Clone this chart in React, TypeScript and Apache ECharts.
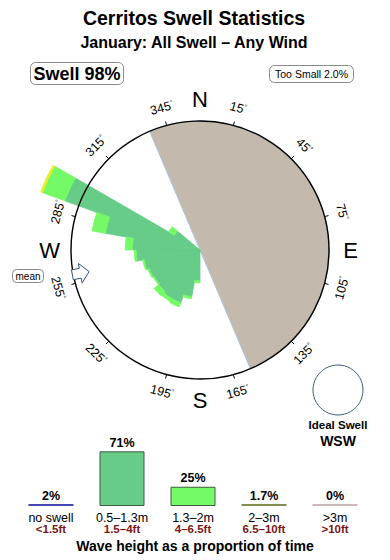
import React, { useEffect, useRef } from "react";
import * as echarts from "echarts";

// ---- Text ----
const TITLE = "Cerritos Swell Statistics";
const SUBTITLE = "January: All Swell – Any Wind";
const SWELL_BADGE = "Swell 98%";
const TOO_SMALL_BADGE = "Too Small 2.0%";
const IDEAL_LABEL = "Ideal Swell";
const IDEAL_DIRECTION = "WSW";
const FOOTER = "Wave height as a proportion of time";

// ---- Swell rose: 10° direction bins (bin centre, degrees from north) ----
const roseDirections = [185, 195, 205, 215, 225, 235, 245, 255, 265, 275, 285, 295, 305];
// stacked radial extents per wave-height band
const rose05to13m = [2.4, 3.7, 4.35, 4.35, 4.2, 4.1, 4.2, 4.4, 4.95, 5.25, 7.45, 11.15, 2.3];
const rose13to2m = [0.15, 0.15, 0.35, 0.25, 0.45, 0.1, 0.1, 0.1, 0.15, 0.55, 1.05, 1.85, 0.5];
const rose2to3m = [0, 0, 0, 0, 0, 0, 0, 0, 0, 0, 0, 0.15, 0];

const RING_VALUE = 10; // radial value that sits on the compass ring
const RADIAL_MAX = 14;

// land sector (bearings, clockwise from -> to)
const landFrom = 337;
const landTo = 157;
const meanDirection = 259;

// compass ring labels
const tickBearings = [15, 45, 75, 105, 135, 165, 195, 225, 255, 285, 315, 345];
const cardinalLetters = ["N", "E", "S", "W"];
const cardinalBearings = [0, 90, 180, 270];

// ---- Wave height distribution ----
const heightBands = ["no swell", "0.5–1.3m", "1.3–2m", "2–3m", ">3m"];
const heightFeet = ["<1.5ft", "1.5–4ft", "4–6.5ft", "6.5–10ft", ">10ft"];
const heightShare = [2, 71, 25, 1.7, 0];

// ---- Layout / style ----
const CX = 200;
const CY = 250;
const RING_R = 129;
const FONT = "'Liberation Sans', Arial, Helvetica, sans-serif";
const C_BAND_A = "#66CC88";
const C_BAND_B = "#74FA66";
const C_BAND_C = "#EDEB24";
const C_LAND = "#C4B9AD";
const bandFills = ["#4646B4", C_BAND_A, C_BAND_B, "#838F4E", "#CBB8B8"];
const bandBorders = [null, "#3E5A48", "#3E5A3E", null, null];

const BIN_COUNT = 36;
const binLabels = Array.from({ length: BIN_COUNT }, (_, i) => String(i * 10));

function toBins(values: number[]): (number | string)[] {
  const out: (number | string)[] = new Array(BIN_COUNT).fill("-");
  roseDirections.forEach((d, i) => {
    if (values[i] > 0) out[Math.floor(d / 10)] = values[i];
  });
  return out;
}

function polarPoint(bearing: number, r: number): [number, number] {
  const a = (bearing * Math.PI) / 180;
  return [CX + r * Math.sin(a), CY - r * Math.cos(a)];
}

function buildGraphics(): any[] {
  const els: any[] = [];
  const text = (x: number, y: number, t: string, size: number, weight: string, extra: any = {}) => ({
    type: "text",
    x,
    y,
    silent: true,
    z: 100,
    style: {
      text: t,
      fontSize: size,
      fontWeight: weight,
      fontFamily: FONT,
      fill: "#000",
      align: "center",
      verticalAlign: "middle",
      ...extra,
    },
  });

  els.push(text(194, 18, TITLE, 19.5, "bold"));
  els.push(text(194, 42, SUBTITLE, 16, "bold"));

  // badges
  els.push({
    type: "rect",
    silent: true,
    z: 99,
    shape: { x: 30.5, y: 62.5, width: 93, height: 22, r: 5 },
    style: { fill: "#fff", stroke: "#8a8a8a", lineWidth: 1 },
  });
  els.push(text(77, 74, SWELL_BADGE, 18, "bold"));
  els.push({
    type: "rect",
    silent: true,
    z: 99,
    shape: { x: 269.5, y: 65.5, width: 84, height: 17, r: 5 },
    style: { fill: "#fff", stroke: "#8a8a8a", lineWidth: 1 },
  });
  els.push(text(311.5, 74, TOO_SMALL_BADGE, 10.5, "normal"));
  els.push({
    type: "rect",
    silent: true,
    z: 99,
    shape: { x: 12.5, y: 269.5, width: 31, height: 13, r: 4 },
    style: { fill: "#fff", stroke: "#8a8a8a", lineWidth: 1 },
  });
  els.push(text(28, 276, "mean", 10, "normal"));

  // cardinal letters
  cardinalLetters.forEach((t, i) => {
    const [x, y] = polarPoint(cardinalBearings[i], 150.5);
    els.push(text(x, y, t, 22, "normal"));
  });

  // ring degree labels, written along the ring
  tickBearings.forEach((b) => {
    const [x, y] = polarPoint(b, 147);
    const rotCW = b > 90 && b < 270 ? b - 180 : b >= 270 ? b - 360 : b;
    els.push({
      type: "text",
      x,
      y,
      rotation: (-rotCW * Math.PI) / 180,
      silent: true,
      z: 100,
      style: {
        text: `{n|${b}}{d|°}`,
        align: "center",
        verticalAlign: "middle",
        fill: "#000",
        rich: {
          n: { fontSize: 12.5, fontFamily: FONT, fill: "#000" },
          d: { fontSize: 7, fontFamily: FONT, fill: "#000", verticalAlign: "top" },
        },
      },
    });
  });

  // mean direction arrow, pointing toward the centre
  const tipR = 113;
  const [tx, ty] = polarPoint(meanDirection, tipR);
  const a = (meanDirection * Math.PI) / 180;
  const inX = -Math.sin(a);
  const inY = Math.cos(a);
  const pX = -inY;
  const pY = inX;
  const local = [
    [0, 0],
    [-9, -10],
    [-9, -5],
    [-17, -5],
    [-17, 5],
    [-9, 5],
    [-9, 10],
  ];
  els.push({
    type: "polygon",
    silent: true,
    z: 101,
    shape: { points: local.map(([u, v]) => [tx + u * inX + v * pX, ty + u * inY + v * pY]) },
    style: { fill: "#fff", stroke: "#3A5874", lineWidth: 1 },
  });

  // ideal swell marker
  els.push({
    type: "circle",
    silent: true,
    z: 100,
    shape: { cx: 338, cy: 390, r: 25 },
    style: { fill: "none", stroke: "#3E5E80", lineWidth: 1 },
  });
  els.push(text(338, 425, IDEAL_LABEL, 11.5, "bold"));
  els.push(text(338, 441, IDEAL_DIRECTION, 14, "bold"));

  els.push(text(195, 546, FOOTER, 14, "bold"));
  return els;
}

export default function App() {
  const ref = useRef<HTMLDivElement>(null);

  useEffect(() => {
    if (!ref.current) return;
    const chart = echarts.init(ref.current, null, { renderer: "svg" });
    const landSpan = (landTo - landFrom + 360) % 360;

    const roseSeries = [
      { name: "0.5–1.3m", values: rose05to13m, color: C_BAND_A },
      { name: "1.3–2m", values: rose13to2m, color: C_BAND_B },
      { name: "2–3m", values: rose2to3m, color: C_BAND_C },
    ].map((s) => ({
      type: "bar",
      name: s.name,
      coordinateSystem: "polar",
      polarIndex: 0,
      stack: "rose",
      data: toBins(s.values),
      barCategoryGap: "0%",
      silent: true,
      z: 3,
      itemStyle: { color: s.color, borderColor: s.color, borderWidth: 0.8 },
    }));

    chart.setOption({
      animation: false,
      textStyle: { fontFamily: FONT },
      polar: [
        { center: [CX, CY], radius: (RING_R * RADIAL_MAX) / RING_VALUE },
        { center: [CX, CY], radius: RING_R },
      ],
      angleAxis: [
        {
          polarIndex: 0,
          type: "category",
          data: binLabels,
          startAngle: 90,
          clockwise: true,
          boundaryGap: true,
          show: false,
        },
        {
          polarIndex: 1,
          type: "value",
          min: 0,
          max: 360,
          interval: 30,
          startAngle: 90 - tickBearings[0],
          clockwise: true,
          z: 10,
          axisLine: { show: true, lineStyle: { color: "#000", width: 1.4 } },
          axisTick: { show: true, length: 4, lineStyle: { color: "#000", width: 1 } },
          axisLabel: { show: false },
          splitLine: { show: false },
        },
      ],
      radiusAxis: [
        { polarIndex: 0, type: "value", min: 0, max: RADIAL_MAX, show: false },
        { polarIndex: 1, type: "value", min: 0, max: 1, show: false },
      ],
      grid: { left: 15.5, top: 429, width: 355, height: 77, containLabel: false },
      xAxis: {
        type: "category",
        data: heightBands,
        axisLine: { show: false },
        axisTick: { show: false },
        axisLabel: {
          interval: 0,
          margin: 6,
          formatter: (v: string, i: number) => `{a|${v}}\n{b|${heightFeet[i]}}`,
          rich: {
            a: { fontSize: 12.5, color: "#000", lineHeight: 11.5, fontFamily: FONT },
            b: { fontSize: 11.5, color: "#7A1616", fontWeight: "bold", lineHeight: 11.5, fontFamily: FONT },
          },
        },
      },
      yAxis: { type: "value", min: 0, max: 100, show: false },
      series: [
        {
          type: "pie",
          center: [CX, CY],
          radius: [0, RING_R],
          startAngle: (((90 - landFrom) % 360) + 360) % 360,
          clockwise: true,
          silent: true,
          z: 1,
          label: { show: false },
          labelLine: { show: false },
          emphasis: { disabled: true },
          data: [
            { value: landSpan, itemStyle: { color: C_LAND, borderColor: "#A9C6DE", borderWidth: 1 } },
            { value: 360 - landSpan, itemStyle: { color: "rgba(0,0,0,0)" } },
          ],
        },
        ...roseSeries,
        {
          type: "bar",
          xAxisIndex: 0,
          yAxisIndex: 0,
          barWidth: 45,
          barMinHeight: 2,
          silent: true,
          data: heightShare.map((v, i) => ({
            value: v,
            itemStyle: bandBorders[i]
              ? { color: bandFills[i], borderColor: bandBorders[i], borderWidth: 1 }
              : { color: bandFills[i] },
          })),
          label: {
            show: true,
            position: "top",
            distance: 2,
            formatter: (p: any) => `${p.value}%`,
            fontSize: 12.5,
            fontWeight: "bold",
            color: "#000",
            fontFamily: FONT,
          },
        },
      ],
      graphic: buildGraphics(),
    });

    return () => chart.dispose();
  }, []);

  return (
    <div
      ref={ref}
      style={{ position: "fixed", left: 0, top: 0, width: 390, height: 560, background: "#fff" }}
    />
  );
}
